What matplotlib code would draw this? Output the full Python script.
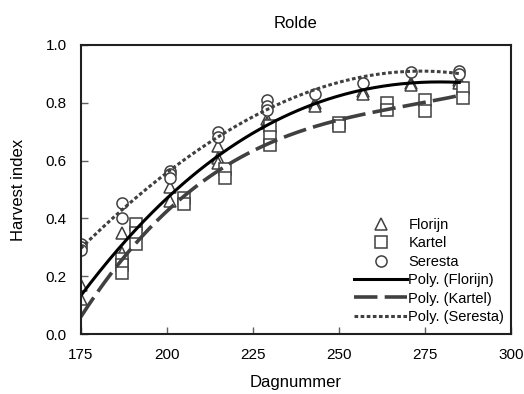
import numpy as np
import matplotlib
matplotlib.use('Agg')
import matplotlib.pyplot as plt

plt.rcParams['font.family'] = ['Liberation Sans Narrow', 'Liberation Sans', 'DejaVu Sans']

# Florijn (triangles)
florijn_x = [175, 175, 187, 187, 187, 201, 201, 215, 215, 215, 229, 229, 243, 243, 257, 257, 271, 271, 285, 285]
florijn_y = [0.17, 0.12, 0.35, 0.28, 0.25, 0.51, 0.46, 0.65, 0.61, 0.59, 0.745, 0.73, 0.80, 0.79, 0.84, 0.83, 0.87, 0.86, 0.88, 0.87]

# Kartel (squares)
kartel_x = [187, 187, 187, 191, 191, 191, 205, 205, 217, 217, 230, 230, 230, 250, 250, 264, 264, 275, 275, 286, 286]
kartel_y = [0.26, 0.24, 0.21, 0.38, 0.35, 0.31, 0.47, 0.45, 0.57, 0.54, 0.72, 0.68, 0.655, 0.73, 0.72, 0.80, 0.775, 0.81, 0.77, 0.85, 0.815]

# Seresta (circles)
seresta_x = [175, 175, 175, 187, 187, 201, 201, 201, 215, 215, 229, 229, 229, 243, 257, 271, 285, 285]
seresta_y = [0.31, 0.30, 0.29, 0.455, 0.40, 0.565, 0.555, 0.54, 0.70, 0.68, 0.81, 0.79, 0.775, 0.83, 0.87, 0.905, 0.91, 0.90]

grey = '#404040'

fig = plt.figure(figsize=(5.24, 3.94), dpi=100)
ax = fig.add_axes([0.154, 0.152, 0.821, 0.734])

# markers
ax.plot(florijn_x, florijn_y, linestyle='none', marker='^', markersize=8.5, markerfacecolor='white',
        markeredgecolor=grey, markeredgewidth=1.1, label='Florijn')
ax.plot(kartel_x, kartel_y, linestyle='none', marker='s', markersize=8.5, markerfacecolor='white',
        markeredgecolor=grey, markeredgewidth=1.1, label='Kartel')
ax.plot(seresta_x, seresta_y, linestyle='none', marker='o', markersize=8, markerfacecolor='white',
        markeredgecolor=grey, markeredgewidth=1.1, label='Seresta')

# polynomial trendlines
xs = np.linspace(175, 285, 200)
pf = np.polyfit(florijn_x, florijn_y, 3)
pk = np.polyfit(kartel_x, kartel_y, 3)
ps = np.polyfit(seresta_x, seresta_y, 3)
ax.plot(xs, np.polyval(pf, xs), color='black', linewidth=2.2, label='Poly. (Florijn)')
ax.plot(xs, np.polyval(pk, xs), color=grey, linewidth=2.6, dashes=(6.5, 2), label='Poly. (Kartel)')
ax.plot(xs, np.polyval(ps, xs), color=grey, linewidth=2.2, dashes=(1.2, 0.8), label='Poly. (Seresta)')

ax.set_xlim(175, 300)
ax.set_ylim(0, 1.0)
ax.set_xticks([175, 200, 225, 250, 275, 300])
ax.set_yticks([0.0, 0.2, 0.4, 0.6, 0.8, 1.0])
ax.set_yticklabels(['0.0', '0.2', '0.4', '0.6', '0.8', '1.0'])
ax.tick_params(direction='in', length=5, width=1, labelsize=11, pad=10, color='#606060')
for sp in ax.spines.values():
    sp.set_linewidth(1.5)
    sp.set_color('#202020')

ax.set_xlabel('Dagnummer', fontsize=12, labelpad=9)
ax.set_ylabel('Harvest index', fontsize=12, labelpad=14)
ax.set_title('Rolde', fontsize=12, pad=12)

ax.legend(loc='lower right', bbox_to_anchor=(1.015, -0.01), frameon=False, fontsize=10.5,
          handlelength=3.6, handletextpad=0.1, labelspacing=0.3, borderaxespad=0.5)

fig.savefig('out.png', dpi=100)
